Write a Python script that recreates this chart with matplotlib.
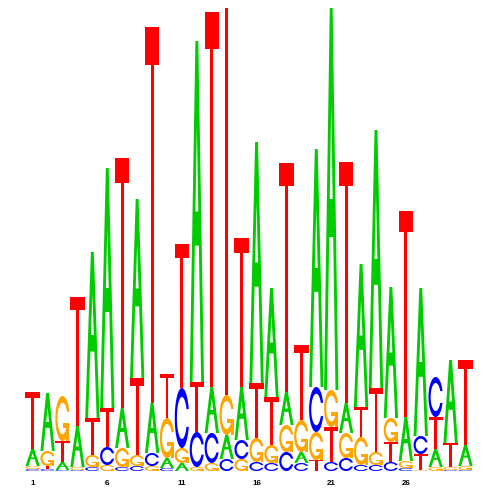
import numpy as np
import matplotlib
matplotlib.use("Agg")
import matplotlib.pyplot as plt
from matplotlib.path import Path
from matplotlib.patches import PathPatch

# heights of each base per position
positions = np.arange(1, 31)
A = [0.17, 0.58, 0.08, 0.41, 1.66, 2.40, 0.40, 1.79, 0.50, 0.10,
     0.08, 3.41, 0.46, 0.24, 0.53, 2.41, 1.09, 0.33, 0.11, 2.38,
     3.82, 0.30, 1.43, 2.58, 1.31, 0.44, 1.48, 0.18, 0.83, 0.21]
C = [0.02, 0.02, 0.01, 0.01, 0.04, 0.18, 0.04, 0.05, 0.13, 0.03,
     0.60, 0.35, 0.30, 0.12, 0.19, 0.09, 0.08, 0.19, 0.08, 0.45,
     0.09, 0.13, 0.06, 0.06, 0.09, 0.03, 0.18, 0.40, 0.01, 0.01]
G = [0.03, 0.15, 0.45, 0.03, 0.12, 0.06, 0.19, 0.11, 0.05, 0.40,
     0.15, 0.04, 0.08, 0.40, 0.12, 0.24, 0.18, 0.27, 0.32, 0.28,
     0.37, 0.25, 0.28, 0.13, 0.24, 0.07, 0.01, 0.04, 0.03, 0.04]
T = [0.57, 0.03, 0.21, 1.29, 0.37, 0.39, 2.50, 0.77, 3.76, 0.44,
     1.44, 0.50, 3.75, 4.70, 1.49, 0.55, 0.48, 2.29, 0.75, 0.11,
     0.35, 2.41, 0.30, 0.64, 0.20, 2.06, 0.16, 0.32, 0.24, 0.85]
tick_pos = [1, 6, 11, 16, 21, 26]

colors = {"A": "#00CC00", "C": "#0000FF", "G": "#FFA500", "T": "#FF0000"}


def poly(pts):
    pts = np.asarray(pts, float)
    pts = np.vstack([pts, pts[:1]])
    codes = [Path.MOVETO] + [Path.LINETO] * (len(pts) - 2) + [Path.CLOSEPOLY]
    return pts, codes


def ring():
    a1 = np.linspace(0.3 + np.pi / 2, np.pi, 100)
    a2 = np.linspace(np.pi, 1.5 * np.pi, 100)
    yl1 = 0.5 + 0.5 * np.cos(a1)
    xl = np.r_[0.5 + 0.5 * np.sin(a1), 0.5 + 0.5 * np.sin(a2)]
    yl = np.r_[yl1, 0.5 + 0.5 * np.cos(a2)]
    xo = np.r_[xl, xl[::-1]]
    yo = np.r_[yl, 1 - yl[::-1]]
    xi1 = 0.5 + 0.35 * np.sin(a1)
    yi1 = 0.5 + 0.35 * np.cos(a1)
    keep = yi1 <= yl1.max()
    xi1, yi1 = xi1[keep], yi1[keep]
    yi1[0] = yl1.max()
    xi = np.r_[xi1, 0.5 + 0.35 * np.sin(a2)]
    yi = np.r_[yi1, 0.5 + 0.35 * np.cos(a2)]
    x1 = np.r_[xi, xi[::-1]]
    y1 = np.r_[yi, 1 - yi[::-1]]
    x = np.r_[xo, x1[::-1]]
    y = np.r_[yo, y1[::-1]]
    return np.column_stack([x, y]), 0.5 + 0.5 * np.cos(0.3)


def letter_paths(base):
    if base == "A":
        v1, c1 = poly(np.array([(0, 0), (4, 10), (6, 10), (10, 0), (8, 0),
                                (6.4, 4), (3.6, 4), (2, 0)]) * 0.1)
        v2, c2 = poly(np.array([(6, 5), (5, 7.5), (4, 5)]) * 0.1)
        return [Path(np.vstack([v1, v2]), c1 + c2)]
    if base == "T":
        return [Path(*poly(np.array([(0, 10), (10, 10), (10, 9), (6, 9),
                                     (6, 0), (4, 0), (4, 9), (0, 9)]) * 0.1))]
    shape, r1 = ring()
    paths = [Path(*poly(shape))]
    if base == "G":
        h1 = 0.4
        bar = [(r1, h1), (0.5, h1), (0.5, h1 - 0.1), (r1 - 0.2, h1 - 0.1),
               (r1 - 0.2, 0), (r1, 0)]
        paths.append(Path(*poly(bar)))
    return paths


fig = plt.figure(figsize=(5, 5), dpi=100)
ax = fig.add_axes([0.0504, 0.058, 0.8956, 0.926])
width = 0.96

for i, pos in enumerate(positions):
    col = {"A": A[i], "C": C[i], "G": G[i], "T": T[i]}
    y0 = 0.0
    for base in sorted(col, key=lambda b: col[b]):
        h = col[base]
        for p in letter_paths(base):
            v = p.vertices.copy()
            v[:, 0] = pos - width / 2 + width * v[:, 0]
            v[:, 1] = y0 + h * v[:, 1]
            ax.add_patch(PathPatch(Path(v, p.codes), facecolor=colors[base],
                                   edgecolor="none"))
        y0 += h

ax.set_xlim(0.5, 30.5)
ax.set_ylim(0, 4.63)
ax.set_xticks(tick_pos)
ax.set_xticklabels([str(t) for t in tick_pos], fontsize=5.8,
                   fontweight="bold", family="Liberation Sans")
ax.tick_params(axis="x", length=0, pad=6.5)
ax.set_yticks([])
for s in ax.spines.values():
    s.set_visible(False)

fig.savefig("out.png", dpi=100)
